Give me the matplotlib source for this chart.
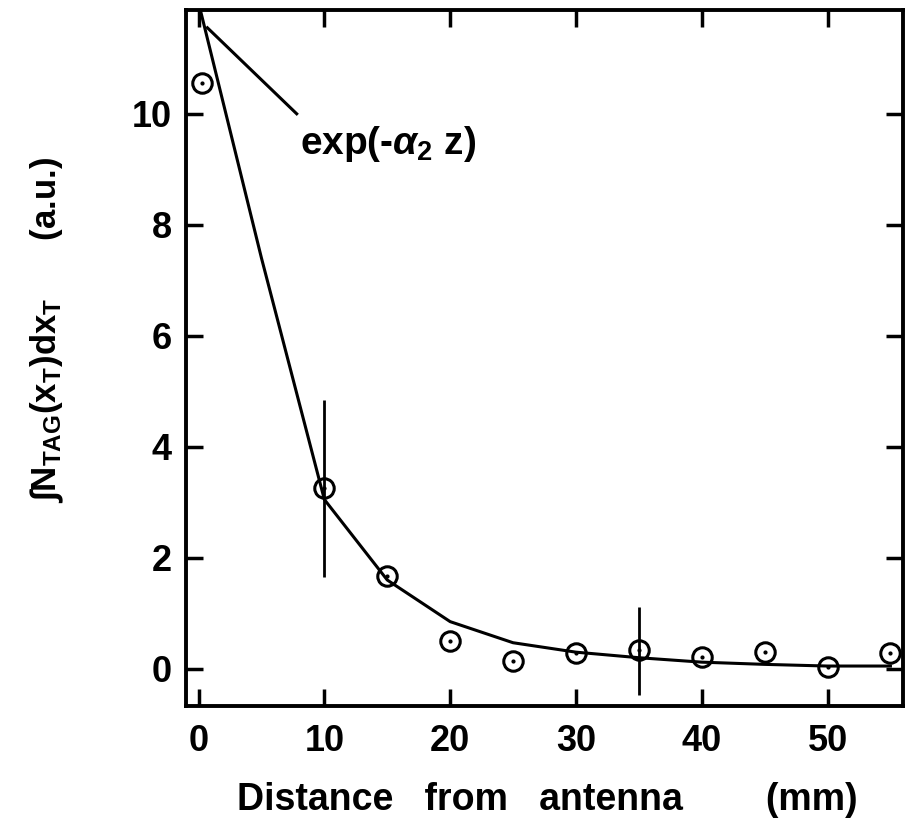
import numpy as np
import matplotlib
matplotlib.use('Agg')
import matplotlib.pyplot as plt

plt.rcParams['font.family'] = ['Liberation Sans', 'DejaVu Sans']
plt.rcParams['font.weight'] = 'bold'
plt.rcParams['mathtext.fontset'] = 'custom'
plt.rcParams['mathtext.rm'] = 'Liberation Sans:bold'
plt.rcParams['mathtext.it'] = 'Liberation Sans:italic:bold'
plt.rcParams['mathtext.bf'] = 'Liberation Sans:bold'

# measured points
dist = [0.3, 10, 15, 20, 25, 30, 35, 40, 45, 50, 55]
signal = [10.55, 3.26, 1.68, 0.50, 0.14, 0.29, 0.34, 0.22, 0.31, 0.04, 0.29]

# error bars (only two points carry them)
err_x = [10, 35]
err_lo = [1.66, -0.47]
err_hi = [4.85, 1.12]

# exponential fit curve
fit_x = [0, 5, 10, 15, 20, 25, 30, 35, 40, 45, 50, 55]
fit_y = [12.0, 7.4, 3.05, 1.6, 0.85, 0.47, 0.30, 0.20, 0.12, 0.08, 0.05, 0.05]

# leader line from the fit label to the curve
lead_x = [0.7, 7.8]
lead_y = [11.55, 10.0]

fig = plt.figure(figsize=(9.06, 8.33), dpi=100)
ax = fig.add_axes([186/906, 127/833, 717/906, 696/833])

ax.plot(fit_x, fit_y, 'k-', lw=2.2, zorder=2)
ax.vlines(err_x, err_lo, err_hi, colors='k', lw=2.0, zorder=2)
ax.plot(dist, signal, 'o', ms=14, mfc='none', mec='k', mew=2.2, zorder=3)
ax.plot(dist, signal, '.', ms=4, color='k', zorder=3)

ax.plot(lead_x, lead_y, 'k-', lw=2.2)
ax.text(8.1, 9.45, 'exp(-$\\alpha_2$ z)', fontsize=28, va='center', ha='left')

ax.set_xlim(-1.0, 56.0)
ax.set_ylim(-0.67, 11.87)
ax.set_xticks(np.arange(0, 60, 10))
ax.set_yticks(np.arange(0, 12, 2))
ax.tick_params(direction='in', length=12, width=2.5, labelsize=26,
               top=True, right=True, pad=10)
ax.tick_params(axis='x', pad=13)
for s in ax.spines.values():
    s.set_linewidth(2.8)

fig.text(547/906, 1 - 800/833, 'Distance   from   antenna        (mm)',
         fontsize=27, ha='center', va='center')
fig.text(47/906, 1 - 330/833,
         '$\\int$N$_{\\rm TAG}$(x$_{\\rm T}$)dx$_{\\rm T}$      (a.u.)',
         fontsize=25, ha='center', va='center', rotation=90)

fig.savefig('out.png', dpi=100)
